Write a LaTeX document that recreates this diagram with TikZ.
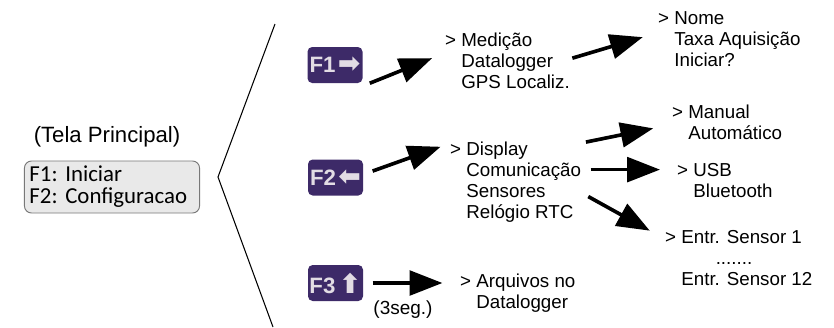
\documentclass[tikz,border=0pt]{standalone}
\usepackage{fontspec}
\setmainfont{Liberation Sans}
\newfontfamily\menufont{Carlito}
\newfontfamily\setafont{DejaVu Sans}
\usetikzlibrary{arrows.meta}
\definecolor{roxo}{RGB}{61,42,104}
\definecolor{cinzatecla}{RGB}{226,220,228}
\definecolor{fundomenu}{RGB}{233,233,233}
\definecolor{bordamenu}{RGB}{120,120,120}
\newcommand{\simbolo}[1]{{\setafont\fontsize{23}{23}\selectfont #1}}
\tikzset{
  % Stile dei tasti funzione
  tecla/.style={
    fill=roxo,
    rounded corners=4pt,
    minimum width=1.65cm,
    minimum height=1.08cm,
    inner sep=0pt,
    text=cinzatecla,
    font=\fontsize{19}{19}\selectfont\bfseries
  },
  % Stile dei testi del menu
  opcoes/.style={
    align=left,
    inner sep=0pt,
    anchor=west,
    font=\fontsize{16}{17.9}\selectfont
  },
  % Stile delle frecce
  seta/.style={
    line width=3.1pt,
    -{Triangle[length=28pt,width=21pt]}
  }
}

\begin{document}
\begin{tikzpicture}[x=0.03cm, y=-0.03cm]
  \useasboundingbox (0,0) rectangle (834,327);

  % Tela principale
  \node[font=\fontsize{18.9}{21}\selectfont] (tela) at (107,137) {(Tela Principal)};
  \node[fill=fundomenu, draw=bordamenu, line width=0.8pt, rounded corners=6pt,
        text width=4.95cm, minimum height=1.56cm, inner xsep=4.3pt, align=left,
        font=\menufont\frenchspacing\fontsize{19.5}{18.8}\selectfont] (menu) at (112,187)
        {F1: Iniciar\\F2: Configuracao};

  % Parentesi
  \draw[line width=0.9pt] (275,24) -- (218,177) -- (273,327);

  % Tasti
  \node[tecla] (keyF1) at (335,65) {F1\hspace{2pt}\simbolo{➡}};
  \node[tecla] (keyF2) at (335.5,177.5) {F2\hspace{2pt}\simbolo{⬅}};
  \node[tecla] (keyF3) at (335.5,283) {F3\hspace{3pt}\simbolo{⬆}};

  % Testi
  \node[opcoes] (med) at (445,60.5) {> Medição\\\hphantom{> }Datalogger\\\hphantom{> }GPS Localiz.};
  \node[opcoes] (nome) at (658,39.5) {> Nome\\\hphantom{> }Taxa Aquisição\\\hphantom{> }Iniciar?};
  \node[opcoes] (disp) at (450,182.5) {> Display\\\hphantom{> }Comunicação\\\hphantom{> }Sensores\\\hphantom{> }Relógio RTC};
  \node[opcoes] (manual) at (672,122.5) {> Manual\\\hphantom{> }Automático};
  \node[opcoes] (usb) at (677,181) {> USB\\\hphantom{> }Bluetooth};
  \node[opcoes] (entr) at (665,258.5) {> Entr. Sensor 1\\\hphantom{> Entr}.......\\\hphantom{> }Entr. Sensor 12};
  \node[opcoes] (arq) at (460,293) {> Arquivos no\\\hphantom{> }Datalogger};
  \node[font=\fontsize{16.2}{18}\selectfont] (seg) at (403,310) {(3seg.)};

  % Frecce
  \draw[seta] ([xshift=6pt]keyF1.south east) -- ([xshift=-11pt,yshift=2pt]med.west);
  \draw[seta] ([xshift=2pt,yshift=2pt]med.east) -- ([xshift=-13pt,yshift=2pt]nome.west);
  \draw[seta] ([xshift=8pt,yshift=5.5pt]keyF2.east) -- ([xshift=-8pt,yshift=-4pt]disp.north west);
  \draw[seta] ([xshift=4pt]disp.north east) -- ([xshift=-16pt,yshift=-5pt]manual.west);
  \draw[seta] ([xshift=8pt,yshift=11pt]disp.east) -- ([xshift=-14.5pt,yshift=11pt]disp.east -| usb.west);
  \draw[seta] ([xshift=6pt,yshift=-12pt]disp.east) -- ([xshift=-13pt]entr.north west);
  \draw[seta] ([xshift=8pt]keyF3.east) -- ([xshift=-15pt]keyF3.east -| arq.west);
\end{tikzpicture}
\end{document}
